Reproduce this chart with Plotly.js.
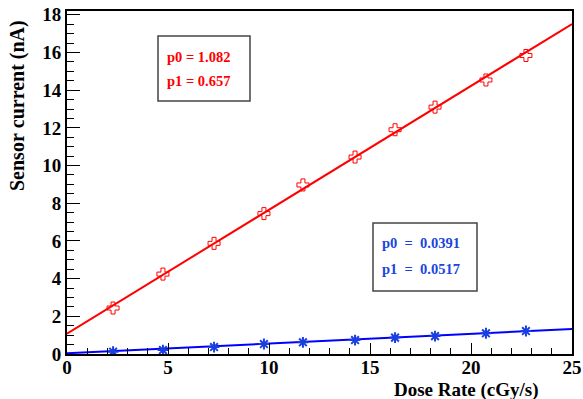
<!DOCTYPE html>
<html>
<head>
<meta charset="utf-8">
<script src="https://cdn.plot.ly/plotly-3.0.1.min.js"></script>
<style>
html,body{margin:0;padding:0;background:#fff;}
#chart{width:583px;height:399px;}
</style>
</head>
<body>
<div id="chart"></div>
<script>
// Data
const doseRate = [2.28, 4.75, 7.28, 9.75, 11.68, 14.26, 16.24, 18.22, 20.74, 22.72];
const currentRed = [2.44, 4.24, 5.87, 7.45, 8.97, 10.45, 11.9, 13.1, 14.54, 15.84];
const currentBlue = [0.12, 0.21, 0.37, 0.53, 0.62, 0.74, 0.87, 0.95, 1.10, 1.22];
// Fit lines (endpoints)
const fitX = [0, 25];
const fitRedY = [1.08, 17.51];
const fitBlueY = [0.04, 1.33];
// Tick labels
const xTicks = [0, 5, 10, 15, 20, 25];
const yTicks = [0, 2, 4, 6, 8, 10, 12, 14, 16, 18];
// Fit parameter labels
const redParams = ["p0 = 1.082", "p1 = 0.657"];
const blueParams = ["p0  =  0.0391", "p1  =  0.0517"];

const RED = "#ff0000";
const BLUE = "#0000ff";
const BLUE_TXT = "#1a45e0";
const SERIF = "'Liberation Serif', 'Times New Roman', serif";

const W = 505, H = 343, L = 67, T = 11;
function px(x){ return (x - L) / W; }
function py(y){ return (T + H - y) / H; }
const b = s => "<b>" + String(s).replace(/ /g, "&nbsp;") + "</b>";

const traces = [
  {x: fitX, y: fitRedY, mode: "lines", line: {color: RED, width: 2}, hoverinfo: "skip"},
  {x: doseRate, y: currentRed, mode: "markers",
   marker: {symbol: "cross-open", size: 10, color: RED, line: {color: RED, width: 1}}},
  {x: fitX, y: fitBlueY, mode: "lines", line: {color: BLUE, width: 2}, hoverinfo: "skip"},
  {x: doseRate, y: currentBlue, mode: "markers",
   marker: {symbol: "asterisk-open", size: 9, color: "#1a3fe0", line: {color: "#1a3fe0", width: 2}}}
];

const annotations = [
  {text: b("Sensor current (nA)"), xref: "paper", yref: "paper", x: px(17), y: py(106),
   textangle: -90, showarrow: false, xanchor: "center", yanchor: "middle",
   font: {family: SERIF, size: 20, color: "#000"}},
  {text: b("Dose Rate (cGy/s)"), xref: "paper", yref: "paper", x: px(541), y: py(390),
   showarrow: false, xanchor: "right", yanchor: "middle",
   font: {family: SERIF, size: 19, color: "#000"}},
  {text: b(redParams[0]), xref: "paper", yref: "paper", x: px(165), y: py(57),
   showarrow: false, xanchor: "left", yanchor: "middle",
   font: {family: SERIF, size: 14.5, color: RED}},
  {text: b(redParams[1]), xref: "paper", yref: "paper", x: px(165), y: py(81),
   showarrow: false, xanchor: "left", yanchor: "middle",
   font: {family: SERIF, size: 14.5, color: RED}},
  {text: b(blueParams[0]), xref: "paper", yref: "paper", x: px(380), y: py(243),
   showarrow: false, xanchor: "left", yanchor: "middle",
   font: {family: SERIF, size: 14.5, color: BLUE_TXT}},
  {text: b(blueParams[1]), xref: "paper", yref: "paper", x: px(380), y: py(269),
   showarrow: false, xanchor: "left", yanchor: "middle",
   font: {family: SERIF, size: 14.5, color: BLUE_TXT}}
];

const shapes = [
  {type: "rect", xref: "paper", yref: "paper", x0: px(158), x1: px(250), y0: py(101), y1: py(36),
   line: {color: "#444", width: 1.5}, fillcolor: "rgba(255,255,255,1)", layer: "below"},
  {type: "rect", xref: "paper", yref: "paper", x0: px(373), x1: px(477), y0: py(291), y1: py(223),
   line: {color: "#444", width: 1.5}, fillcolor: "rgba(255,255,255,1)", layer: "below"}
];

const layout = {
  width: 583, height: 399,
  margin: {l: L, r: 583 - L - W, t: T, b: 399 - T - H, pad: 0},
  paper_bgcolor: "#fff", plot_bgcolor: "#fff",
  showlegend: false,
  xaxis: {
    range: [0, 25], showgrid: false, zeroline: false,
    showline: true, linecolor: "#000", linewidth: 2, mirror: true,
    ticks: "inside", ticklen: 11, tickwidth: 1, tickcolor: "#000",
    tickvals: xTicks, ticktext: xTicks.map(b),
    ticklabelstandoff: -5,
    tickfont: {family: SERIF, size: 19, color: "#000"},
    minor: {dtick: 1, ticks: "inside", ticklen: 6, tickwidth: 1, tickcolor: "#000", showgrid: false}
  },
  yaxis: {
    range: [0, 18.2], showgrid: false, zeroline: false,
    showline: true, linecolor: "#000", linewidth: 2, mirror: true,
    ticks: "inside", ticklen: 13, tickwidth: 1, tickcolor: "#000",
    tickvals: yTicks, ticktext: yTicks.map(b),
    ticklabelstandoff: 0,
    tickfont: {family: SERIF, size: 19, color: "#000"},
    minor: {dtick: 0.5, ticks: "inside", ticklen: 7, tickwidth: 1, tickcolor: "#000", showgrid: false}
  },
  annotations: annotations,
  shapes: shapes
};

Plotly.newPlot("chart", traces, layout, {staticPlot: true, displayModeBar: false});
</script>
</body>
</html>
